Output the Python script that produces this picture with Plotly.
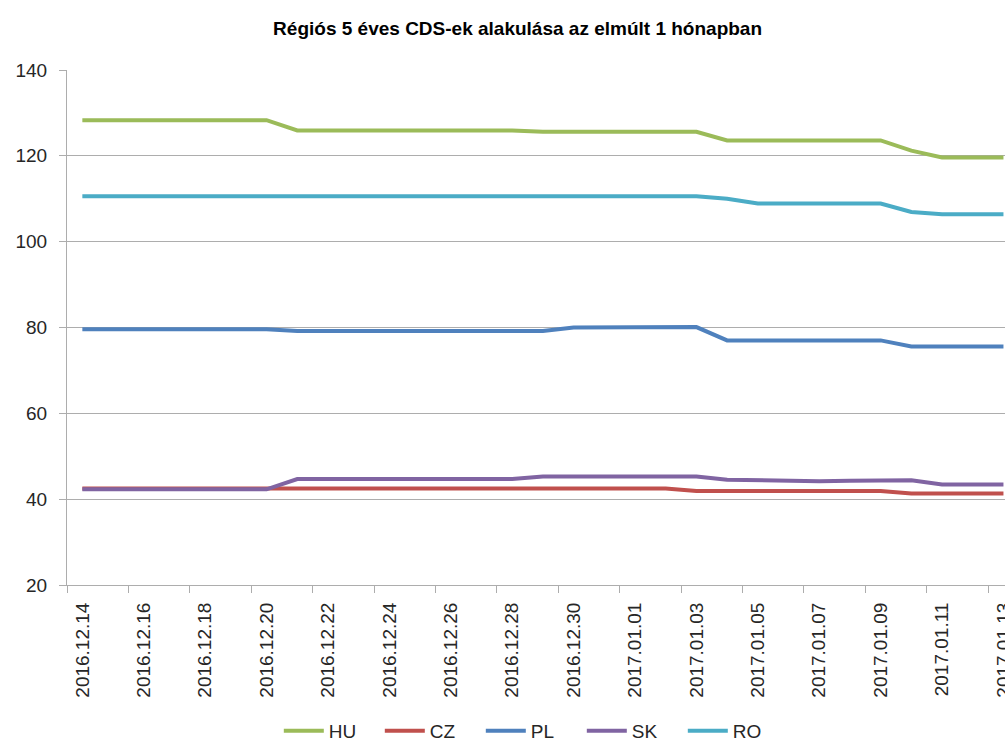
import plotly.graph_objects as go

dates = ["2016.12.14", "2016.12.15", "2016.12.16", "2016.12.17", "2016.12.18", "2016.12.19",
         "2016.12.20", "2016.12.21", "2016.12.22", "2016.12.23", "2016.12.24", "2016.12.25",
         "2016.12.26", "2016.12.27", "2016.12.28", "2016.12.29", "2016.12.30", "2016.12.31",
         "2017.01.01", "2017.01.02", "2017.01.03", "2017.01.04", "2017.01.05", "2017.01.06",
         "2017.01.07", "2017.01.08", "2017.01.09", "2017.01.10", "2017.01.11", "2017.01.12",
         "2017.01.13"]

hu = [128.3, 128.3, 128.3, 128.3, 128.3, 128.3, 128.3, 125.9, 125.9, 125.9, 125.9, 125.9,
      125.9, 125.9, 125.9, 125.6, 125.6, 125.6, 125.6, 125.6, 125.6, 123.6, 123.6, 123.6,
      123.6, 123.6, 123.6, 121.2, 119.6, 119.6, 119.6]
cz = [42.5, 42.5, 42.5, 42.5, 42.5, 42.5, 42.5, 42.5, 42.5, 42.5, 42.5, 42.5,
      42.5, 42.5, 42.5, 42.5, 42.5, 42.5, 42.5, 42.5, 41.9, 41.9, 41.9, 41.9,
      41.9, 41.9, 41.9, 41.3, 41.3, 41.3, 41.3]
pl = [79.6, 79.6, 79.6, 79.6, 79.6, 79.6, 79.6, 79.2, 79.2, 79.2, 79.2, 79.2,
      79.2, 79.2, 79.2, 79.2, 80.0, 80.0, 80.0, 80.1, 80.1, 77.0, 77.0, 77.0,
      77.0, 77.0, 77.0, 75.6, 75.6, 75.6, 75.6]
sk = [42.3, 42.3, 42.3, 42.3, 42.3, 42.3, 42.3, 44.7, 44.7, 44.7, 44.7, 44.7,
      44.7, 44.7, 44.7, 45.3, 45.3, 45.3, 45.3, 45.3, 45.3, 44.5, 44.4, 44.1,
      44.2, 44.3, 44.4, 44.4, 43.4, 43.4, 43.4]
ro = [110.6, 110.6, 110.6, 110.6, 110.6, 110.6, 110.6, 110.6, 110.6, 110.6, 110.6, 110.6,
      110.6, 110.6, 110.6, 110.6, 110.6, 110.6, 110.6, 110.6, 110.6, 110.0, 108.9, 108.9,
      108.9, 108.9, 108.9, 106.9, 106.4, 106.4, 106.4]

series = [("HU", hu, "#9BBB59"), ("CZ", cz, "#C0504D"), ("PL", pl, "#4F81BD"),
          ("SK", sk, "#8064A2"), ("RO", ro, "#4BACC6")]

title_text = "Régiós 5 éves CDS-ek alakulása az elmúlt 1 hónapban"
y_ticks = [20, 40, 60, 80, 100, 120, 140]

x_idx = list(range(len(dates)))
label_idx = x_idx[::2]
label_txt = dates[::2]
boundary_ticks = [i - 0.5 for i in label_idx]

fig = go.Figure()
for name, vals, color in series:
    fig.add_trace(go.Scatter(x=x_idx, y=vals, name=name, mode="lines",
                             line=dict(color=color, width=4),
                             hovertemplate="%{text}: %{y}<extra>" + name + "</extra>",
                             text=dates))

grid = "#ADADAD"
fig.update_layout(
    width=1005, height=742,
    margin=dict(l=67, r=0, t=70, b=157, autoexpand=False),
    paper_bgcolor="white", plot_bgcolor="white",
    font=dict(family="Liberation Sans, Arial, sans-serif", color="#262626", size=19),
    title=dict(text=title_text, x=0.515, xanchor="center", y=1 - 28 / 742, yanchor="middle",
               font=dict(family="Liberation Sans, Arial, sans-serif", size=19, color="#000000",
                         weight="bold")),
    showlegend=True,
    legend=dict(orientation="h", x=0.495, xanchor="center", yref="container",
                y=1 - 731 / 742, yanchor="middle", font=dict(size=19),
                entrywidth=46, entrywidthmode="pixels", itemwidth=40,
                bgcolor="rgba(0,0,0,0)"),
    xaxis=dict(range=[-0.5, 30.05], tickmode="array", tickvals=label_idx, ticktext=label_txt,
               tickangle=-90, ticks="", showgrid=False, zeroline=False,
               showline=True, linecolor=grid, linewidth=1, ticklabelstandoff=9,
               ticklabeloverflow="allow", automargin=False,
               minor=dict(tickmode="array", tickvals=boundary_ticks, ticks="outside",
                          ticklen=7, tickcolor=grid, showgrid=False),
               tickfont=dict(size=19)),
    yaxis=dict(range=[20, 140], tickmode="array", tickvals=y_ticks, showgrid=True,
               gridcolor=grid, gridwidth=1, zeroline=False, showline=True, linecolor=grid,
               linewidth=1, ticks="outside", ticklen=7, tickcolor=grid, automargin=False,
               ticklabelstandoff=8, tickfont=dict(size=19)),
)

fig.write_html("out.html", config={"displayModeBar": False},
               post_script="document.body.style.margin='0';document.body.style.overflow='hidden';")
